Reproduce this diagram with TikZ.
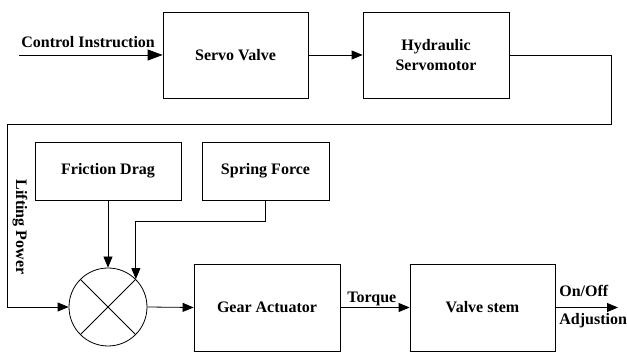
\documentclass[tikz,border=0pt]{standalone}
\usepackage{fontspec}
\setmainfont{Liberation Serif}
\usetikzlibrary{arrows.meta,shapes.geometric}
\begin{document}
\begin{tikzpicture}[x=1pt,y=-1pt,
  font=\fontsize{16}{20.5}\selectfont\bfseries,
  line width=0.8pt,
  block/.style={draw, minimum width=#1, align=center, inner sep=0pt},
  block/.default=146pt,
  tall/.style={minimum height=86pt},
  short/.style={minimum height=58pt},
  sumnode/.style={draw, circle, minimum size=78pt, inner sep=0pt},
  flow/.style={-{Triangle[length=11pt,width=9pt]}},
  bigflow/.style={-{Triangle[length=15pt,width=11pt]}},
  lbl/.style={anchor=base west, inner sep=0pt}]
\useasboundingbox (0,0) rectangle (627,352);

% blocks
\node[block=145pt, tall] (servo) at (235.5,55) {Servo Valve};
\node[block, tall] (hyd) at (436,55) {Hydraulic\\Servomotor};
\node[block, short] (fric) at (108,171) {Friction Drag};
\node[block=127pt, short] (spring) at (265.5,171) {Spring Force};
\node[sumnode] (sum) at (108,307) {};
\node[block, minimum height=87pt] (gear) at (267,307.5) {Gear Actuator};
\node[block=145pt, minimum height=87pt] (valve) at (482.5,307.5) {Valve stem};

% cross inside the summing junction
\draw (sum.north east) -- (sum.south west);
\draw (sum.north west) -- (sum.south east);

% input and output ends
\coordinate (in) at (19,55);
\coordinate (out) at (618,307.5);
\coordinate (fbR) at (611,124);
\coordinate (fbL) at (7,124);

% connectors
\draw[bigflow] (in) -- (servo.west);
\draw[flow] (servo.east) -- (hyd.west);
\draw[flow] (hyd.east) -| (fbR) -- (fbL) |- (sum.west);
\draw[flow] (fric.south) -- (sum.north);
\draw[flow] (spring.south) -- ++(0,21) -| (sum.north east);
\draw[flow] (sum.east) -- (gear.west);
\draw[flow] (gear.east) -- (valve.west);
\draw[flow] (valve.east) -- (out);

% labels
\node[lbl] (lctl) at (21,48) {Control Instruction};
\node[lbl] (ltq) at (347,303) {Torque};
\node[lbl] (lon) at (559,297) {On/Off};
\node[lbl] (ladj) at (559,325) {Adjustion};
\node[rotate=-90, inner sep=0pt] (llift) at (20,227) {Lifting Power};
\end{tikzpicture}
\end{document}
